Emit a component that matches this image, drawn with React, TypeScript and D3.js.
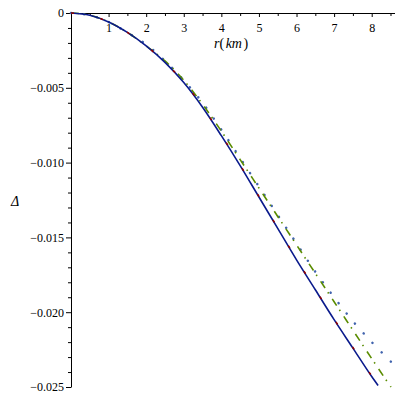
import { useRef, useEffect } from 'react';
import { select, scaleLinear, axisBottom, axisLeft, line, curveMonotoneX, range } from 'd3';

// r in km, Delta
const rSolid = [0, 0.5, 1, 1.5, 2, 2.5, 3, 3.5, 4, 4.5, 5, 5.5, 6, 6.5, 7, 7.5, 8, 8.17];
const deltaSolid = [0, -0.00015, -0.0006, -0.0013, -0.0022, -0.0033, -0.00465, -0.0063, -0.0082, -0.0102, -0.0123, -0.0144, -0.0165, -0.0185, -0.0205, -0.0224, -0.0243, -0.0249];
const deltaDashed = [0, -0.00015, -0.0006, -0.0013, -0.0022, -0.0033, -0.00462, -0.00627, -0.00816, -0.01016, -0.01226, -0.01436, -0.01646, -0.01846, -0.02046, -0.02236, -0.02426, -0.02486];

const rOther = [0, 0.5, 1, 1.5, 2, 2.5, 3, 3.5, 4, 4.5, 5, 5.5, 6, 6.5, 7, 7.5, 8, 8.51];
const deltaDashDot = [0, -0.00015, -0.0006, -0.0013, -0.0022, -0.0032, -0.0045, -0.0061, -0.0079, -0.0098, -0.0117, -0.0136, -0.0155, -0.0174, -0.0193, -0.0212, -0.0231, -0.025];
const deltaDotted = [0, -0.00015, -0.0006, -0.0013, -0.0021, -0.0032, -0.0045, -0.006, -0.0078, -0.0097, -0.0116, -0.0135, -0.0154, -0.0173, -0.019, -0.0206, -0.022, -0.0233];

const xTicks = [1, 2, 3, 4, 5, 6, 7, 8];
const yTicks = [0, -0.005, -0.01, -0.015, -0.02, -0.025];

const WIDTH = 400;
const HEIGHT = 400;
const FONT = "'Liberation Serif', 'DejaVu Serif', serif";

export default function App() {
  const svgRef = useRef(null);

  useEffect(() => {
    const svg = select(svgRef.current);
    svg.selectAll('*').remove();

    const x = scaleLinear().domain([0, 8.62]).range([71, 395]);
    const y = scaleLinear().domain([0, -0.025]).range([13, 387]);

    // minor ticks first
    svg
      .append('g')
      .attr('transform', `translate(0, ${y(0)})`)
      .call(axisBottom(x).tickValues(range(0.5, 8.6, 1)).tickSize(3).tickSizeOuter(0).tickFormat(() => ''))
      .call((g) => g.select('.domain').remove());
    svg
      .append('g')
      .attr('transform', `translate(${x(0)}, 0)`)
      .call(
        axisLeft(y)
          .tickValues(range(-0.001, -0.0251, -0.001).filter((v) => Math.abs(Math.round(v * 1000)) % 5 !== 0))
          .tickSize(3)
          .tickSizeOuter(0)
          .tickFormat(() => ''),
      )
      .call((g) => g.select('.domain').remove());

    const xAxis = svg
      .append('g')
      .attr('transform', `translate(0, ${y(0)})`)
      .call(axisBottom(x).tickValues(xTicks).tickSize(4).tickSizeOuter(0).tickPadding(6).tickFormat((d) => `${d}`));
    xAxis.select('.domain').attr('d', `M${x(0) - 4},0.5H395`);

    svg
      .append('g')
      .attr('transform', `translate(${x(0)}, 0)`)
      .call(
        axisLeft(y)
          .tickValues(yTicks)
          .tickSize(5)
          .tickSizeOuter(0)
          .tickPadding(2)
          .tickFormat((d) => (+d === 0 ? '0' : `\u2212${(-d).toFixed(3)}`)),
      );

    svg.selectAll('g').attr('font-family', null);
    svg.selectAll('.tick text').style('font-family', FONT).style('font-size', '12px').attr('fill', '#000');
    svg.selectAll('.domain, .tick line').attr('stroke', '#000');

    const path = line<[number, number]>()
      .x((d) => x(d[0]))
      .y((d) => y(d[1]))
      .curve(curveMonotoneX);

    const series = [
      { r: rOther, d: deltaDotted, color: '#4063ad', width: 2.5, dash: '0.1,13', cap: 'round' },
      { r: rOther, d: deltaDashDot, color: '#5a8c00', width: 1.6, dash: '8,5,1.5,6.5', cap: 'butt' },
      { r: rSolid, d: deltaSolid, color: '#0a1a8c', width: 1.6, dash: null, cap: 'butt' },
      { r: rSolid, d: deltaDashed, color: '#920000', width: 1.5, dash: '3,27', cap: 'butt' },
    ];

    series.forEach((s) => {
      svg
        .append('path')
        .datum(s.r.map((r, i) => [r, s.d[i]] as [number, number]))
        .attr('fill', 'none')
        .attr('stroke', s.color)
        .attr('stroke-width', s.width)
        .attr('stroke-linecap', s.cap)
        .attr('stroke-dasharray', s.dash)
        .attr('d', path);
    });

    const xLabel = svg
      .append('text')
      .attr('x', 214)
      .attr('y', 48)
      .style('font-family', FONT)
      .style('font-size', '14px')
      .attr('fill', '#000');
    xLabel.append('tspan').style('font-style', 'italic').text('r');
    xLabel.append('tspan').text('(');
    xLabel.append('tspan').style('font-style', 'italic').attr('dx', 1.5).text('km');
    xLabel.append('tspan').attr('dx', 1.5).text(')');

    svg
      .append('text')
      .attr('x', 15)
      .attr('y', 201)
      .attr('text-anchor', 'middle')
      .attr('dominant-baseline', 'central')
      .style('font-family', FONT)
      .style('font-size', '14px')
      .style('font-style', 'italic')
      .attr('fill', '#000')
      .text('\u0394');
  }, [svgRef]);

  return (
    <svg
      ref={svgRef}
      width={WIDTH}
      height={HEIGHT}
      style={{ position: 'absolute', left: 0, top: 0, background: '#fff' }}
    />
  );
}
